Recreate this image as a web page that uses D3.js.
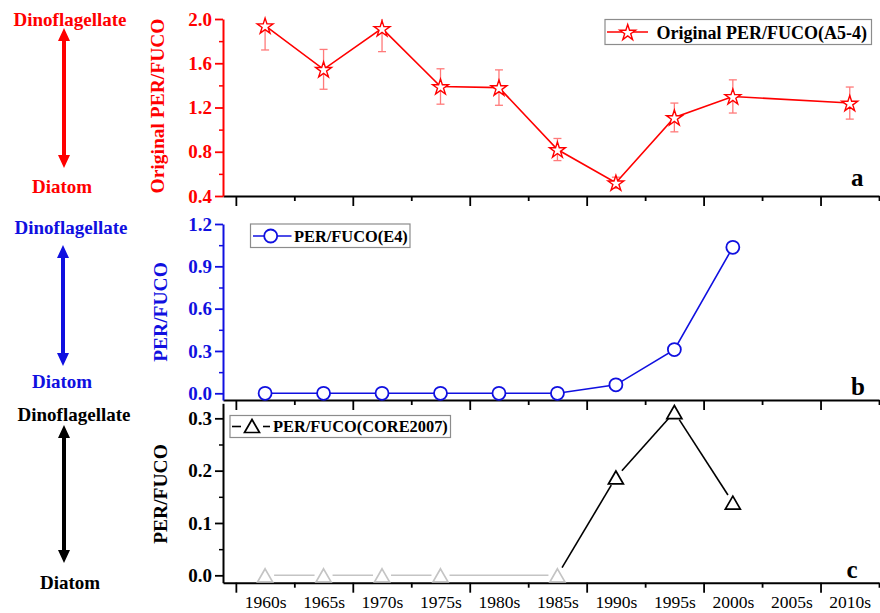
<!DOCTYPE html>
<html>
<head>
<meta charset="utf-8">
<script src="https://cdn.jsdelivr.net/npm/d3@7"></script>
<style>
  body { margin: 0; background: #fff; }
  svg { display: block; }
  text { font-family: "Liberation Serif", "Times New Roman", serif; }
</style>
</head>
<body>
<svg id="chart" width="880" height="613"></svg>
<script>
// Decades on the shared x axis
const categories = ["1960s", "1965s", "1970s", "1975s", "1980s", "1985s",
                    "1990s", "1995s", "2000s", "2005s", "2010s"];

// Original PER/FUCO ratio, core A5-4, with standard deviation
const perFucoA54    = [1.94, 1.545, 1.915, 1.39, 1.38, 0.82, 0.52, 1.11, 1.30, null, 1.24];
const perFucoA54Err = [0.22, 0.18, 0.21, 0.16, 0.16, 0.10, 0.05, 0.13, 0.15, null, 0.145];

// PER/FUCO ratio, station E4
const perFucoE4 = [0, 0, 0, 0, 0, 0, 0.06, 0.31, 1.035, null, null];

// PER/FUCO ratio, CORE2007 (zero = not detected)
const perFucoCore2007 = [0, 0, 0, 0, null, 0, 0.187, 0.312, 0.139, null, null];

// Axis ticks
const ticksA = [0.4, 0.8, 1.2, 1.6, 2.0], minorA = [0.6, 1.0, 1.4, 1.8];
const ticksB = [0.0, 0.3, 0.6, 0.9, 1.2], minorB = [0.15, 0.45, 0.75, 1.05];
const ticksC = [0.0, 0.1, 0.2, 0.3],      minorC = [0.05, 0.15, 0.25];

const RED = "#ff0000", BLUE = "#1010e0", BLACK = "#000000", GREY = "#c4c4c4";

const svg = d3.select("#chart");
const x = d3.scaleLinear().domain([-0.72, 10.5]).range([223, 879]);
const xMajor = [-0.5, 1.5, 3.5, 5.5, 7.5, 9.5];
const xMinor = [0.5, 2.5, 4.5, 6.5, 8.5, 10.5];

const yA = d3.scaleLinear().domain([0.4, 2.0]).range([196, 19]);
const yB = d3.scaleLinear().domain([-0.0475, 1.2]).range([400, 224]);
const yC = d3.scaleLinear().domain([-0.0141, 0.3287]).range([582.7, 403.3]);

const pts = (vals) => vals.map((v, i) => ({ i, v })).filter(d => d.v !== null);

// ---------- axes ----------
function drawXAxis(y, withLabels) {
  const base = y.range()[0];
  const g = svg.append("g").attr("transform", `translate(0,${base})`);
  g.append("g").call(d3.axisBottom(x).tickValues(xMajor).tickSize(10).tickSizeOuter(0).tickFormat(""))
    .call(s => s.select(".domain").attr("stroke", BLACK).attr("stroke-width", 2))
    .call(s => s.selectAll(".tick line").attr("stroke", BLACK).attr("stroke-width", 1.8));
  g.append("g").call(d3.axisBottom(x).tickValues(xMinor).tickSize(5).tickSizeOuter(0).tickFormat(""))
    .call(s => s.select(".domain").remove())
    .call(s => s.selectAll(".tick line").attr("stroke", BLACK).attr("stroke-width", 1.8));
  if (withLabels) {
    g.append("g").call(d3.axisBottom(x).tickValues(d3.range(categories.length))
        .tickSize(0).tickPadding(13).tickFormat(i => categories[i]))
      .call(s => s.select(".domain").remove())
      .call(s => s.selectAll("text").attr("font-size", 17.5).attr("fill", BLACK)
        .attr("font-family", '"Liberation Serif","Times New Roman",serif'));
  }
}

function drawYAxis(y, major, minor, color) {
  const g = svg.append("g").attr("transform", `translate(${x.range()[0]},0)`);
  g.append("g").call(d3.axisLeft(y).tickValues(major).tickSize(8).tickSizeOuter(0)
      .tickPadding(3).tickFormat(d3.format(".1f")))
    .call(s => s.select(".domain").attr("stroke", color).attr("stroke-width", 2))
    .call(s => s.selectAll(".tick line").attr("stroke", color).attr("stroke-width", 1.8))
    .call(s => s.selectAll("text").attr("fill", color).attr("font-size", 19)
      .attr("font-weight", "bold").attr("font-family", '"Liberation Serif","Times New Roman",serif'));
  g.append("g").call(d3.axisLeft(y).tickValues(minor).tickSize(4).tickSizeOuter(0).tickFormat(""))
    .call(s => s.select(".domain").remove())
    .call(s => s.selectAll(".tick line").attr("stroke", color).attr("stroke-width", 1.5));
}

function yTitle(text, cx, cy, color) {
  svg.append("text").attr("transform", `translate(${cx},${cy}) rotate(-90)`)
    .attr("text-anchor", "middle").attr("dominant-baseline", "central")
    .attr("font-size", 19.5).attr("font-weight", "bold").attr("fill", color).text(text);
}

function panelLetter(t, px, py) {
  svg.append("text").attr("x", px).attr("y", py).attr("font-size", 25)
    .attr("font-weight", "bold").attr("fill", BLACK).text(t);
}

// double-headed arrow with the two trophic labels
function sideArrow(color, top, bottom, ax, labTopY, labBotY, topCx, botCx) {
  const hw = 6, sw = 2, hl = 13;
  const p = d3.path();
  p.moveTo(ax, top); p.lineTo(ax + hw, top + hl); p.lineTo(ax + sw, top + hl);
  p.lineTo(ax + sw, bottom - hl); p.lineTo(ax + hw, bottom - hl); p.lineTo(ax, bottom);
  p.lineTo(ax - hw, bottom - hl); p.lineTo(ax - sw, bottom - hl); p.lineTo(ax - sw, top + hl);
  p.lineTo(ax - hw, top + hl); p.closePath();
  svg.append("path").attr("d", p.toString()).attr("fill", color);
  svg.append("text").attr("x", topCx).attr("y", labTopY).attr("text-anchor", "middle")
    .attr("font-size", 19).attr("font-weight", "bold").attr("fill", color).text("Dinoflagellate");
  svg.append("text").attr("x", botCx).attr("y", labBotY).attr("text-anchor", "middle")
    .attr("font-size", 19).attr("font-weight", "bold").attr("fill", color).text("Diatom");
}

// symbol shapes
const starSym = d3.symbol().type(d3.symbolStar).size(78);
const triangleType = {
  draw(ctx) { ctx.moveTo(0, -6.5); ctx.lineTo(7.5, 6.5); ctx.lineTo(-7.5, 6.5); ctx.closePath(); }
};
const triSym = d3.symbol().type(triangleType);

function legendBox(x0, y0, x1, y1) {
  svg.append("rect").attr("x", x0).attr("y", y0).attr("width", x1 - x0).attr("height", y1 - y0)
    .attr("fill", "#fff").attr("stroke", "#8c8c8c").attr("stroke-width", 1.2);
}

// ================= panel a =================
drawXAxis(yA, false);
drawYAxis(yA, ticksA, minorA, RED);
yTitle("Original PER/FUCO", 157, 106, RED);
sideArrow(RED, 28, 168, 64, 26, 193, 70, 62);

svg.append("clipPath").attr("id", "clipA").append("rect")
  .attr("x", 223).attr("y", 19).attr("width", 660).attr("height", 177);

const dA = pts(perFucoA54);
const errG = svg.append("g").attr("clip-path", "url(#clipA)")
  .attr("stroke", "#ff7a7a").attr("stroke-width", 1.3).attr("fill", "none");
dA.forEach(d => {
  const e = perFucoA54Err[d.i], cx = x(d.i);
  const y1 = yA(d.v + e), y2 = yA(d.v - e);
  errG.append("line").attr("x1", cx).attr("x2", cx).attr("y1", y1).attr("y2", y2);
  errG.append("line").attr("x1", cx - 4).attr("x2", cx + 4).attr("y1", y1).attr("y2", y1);
  errG.append("line").attr("x1", cx - 4).attr("x2", cx + 4).attr("y1", y2).attr("y2", y2);
});
svg.append("path").datum(dA)
  .attr("d", d3.line().x(d => x(d.i)).y(d => yA(d.v)))
  .attr("fill", "none").attr("stroke", RED).attr("stroke-width", 1.6);
svg.append("g").selectAll("path").data(dA).join("path")
  .attr("d", starSym).attr("transform", d => `translate(${x(d.i)},${yA(d.v) + 0.8})`)
  .attr("fill", "#fff").attr("stroke", RED).attr("stroke-width", 1.4);

legendBox(605, 19.5, 871.5, 44.5);
svg.append("line").attr("x1", 607).attr("x2", 648).attr("y1", 32).attr("y2", 32)
  .attr("stroke", RED).attr("stroke-width", 1.6);
svg.append("path").attr("d", starSym).attr("transform", "translate(627.7,32.8)")
  .attr("fill", "#fff").attr("stroke", RED).attr("stroke-width", 1.4);
svg.append("text").attr("x", 656.5).attr("y", 38.5).attr("font-size", 18)
  .attr("font-weight", "bold").attr("fill", BLACK).text("Original PER/FUCO(A5-4)");
panelLetter("a", 851, 186);

// ================= panel b =================
drawXAxis(yB, false);
drawYAxis(yB, ticksB, minorB, BLUE);
yTitle("PER/FUCO", 160, 312, BLUE);
sideArrow(BLUE, 245, 366, 63, 234, 388, 71, 62);

const dB = pts(perFucoE4);
svg.append("path").datum(dB)
  .attr("d", d3.line().x(d => x(d.i)).y(d => yB(d.v)))
  .attr("fill", "none").attr("stroke", BLUE).attr("stroke-width", 1.6);
svg.append("g").selectAll("circle").data(dB).join("circle")
  .attr("cx", d => x(d.i)).attr("cy", d => yB(d.v)).attr("r", 6.5)
  .attr("fill", "#fff").attr("stroke", BLUE).attr("stroke-width", 1.8);

legendBox(250.5, 224, 410, 247.5);
svg.append("line").attr("x1", 253).attr("x2", 291.5).attr("y1", 236).attr("y2", 236)
  .attr("stroke", BLUE).attr("stroke-width", 1.6);
svg.append("circle").attr("cx", 270.7).attr("cy", 236).attr("r", 6.5)
  .attr("fill", "#fff").attr("stroke", BLUE).attr("stroke-width", 1.8);
svg.append("text").attr("x", 294).attr("y", 241.5).attr("font-size", 16.4)
  .attr("font-weight", "bold").attr("fill", BLACK).text("PER/FUCO(E4)");
panelLetter("b", 851, 395);

// ================= panel c =================
drawXAxis(yC, true);
drawYAxis(yC, ticksC, minorC, BLACK);
yTitle("PER/FUCO", 160, 494, BLACK);
sideArrow(BLACK, 425, 563, 64, 421, 589, 74, 70);

const dC = pts(perFucoCore2007);
const gap = 9;
const segG = svg.append("g").attr("fill", "none").attr("stroke-width", 1.6);
d3.pairs(dC).forEach(([a, b]) => {
  const x1 = x(a.i), y1 = yC(a.v), x2 = x(b.i), y2 = yC(b.v);
  const len = Math.hypot(x2 - x1, y2 - y1), ux = (x2 - x1) / len, uy = (y2 - y1) / len;
  segG.append("line")
    .attr("x1", x1 + ux * gap).attr("y1", y1 + uy * gap)
    .attr("x2", x2 - ux * gap).attr("y2", y2 - uy * gap)
    .attr("stroke", (a.v === 0 && b.v === 0) ? GREY : BLACK);
});
svg.append("g").selectAll("path").data(dC).join("path")
  .attr("d", triSym).attr("transform", d => `translate(${x(d.i)},${yC(d.v)})`)
  .attr("fill", "#fff").attr("stroke", d => d.v === 0 ? GREY : BLACK).attr("stroke-width", 1.7);

legendBox(230, 415.5, 450.5, 437.5);
svg.append("line").attr("x1", 232).attr("x2", 241).attr("y1", 426.5).attr("y2", 426.5)
  .attr("stroke", BLACK).attr("stroke-width", 1.6);
svg.append("line").attr("x1", 263).attr("x2", 270).attr("y1", 426.5).attr("y2", 426.5)
  .attr("stroke", BLACK).attr("stroke-width", 1.6);
svg.append("path").attr("d", triSym).attr("transform", "translate(252,426)")
  .attr("fill", "#fff").attr("stroke", BLACK).attr("stroke-width", 1.7);
svg.append("text").attr("x", 273).attr("y", 432).attr("font-size", 16.4)
  .attr("font-weight", "bold").attr("fill", BLACK).text("PER/FUCO(CORE2007)");
panelLetter("c", 846.5, 578);
</script>
</body>
</html>
